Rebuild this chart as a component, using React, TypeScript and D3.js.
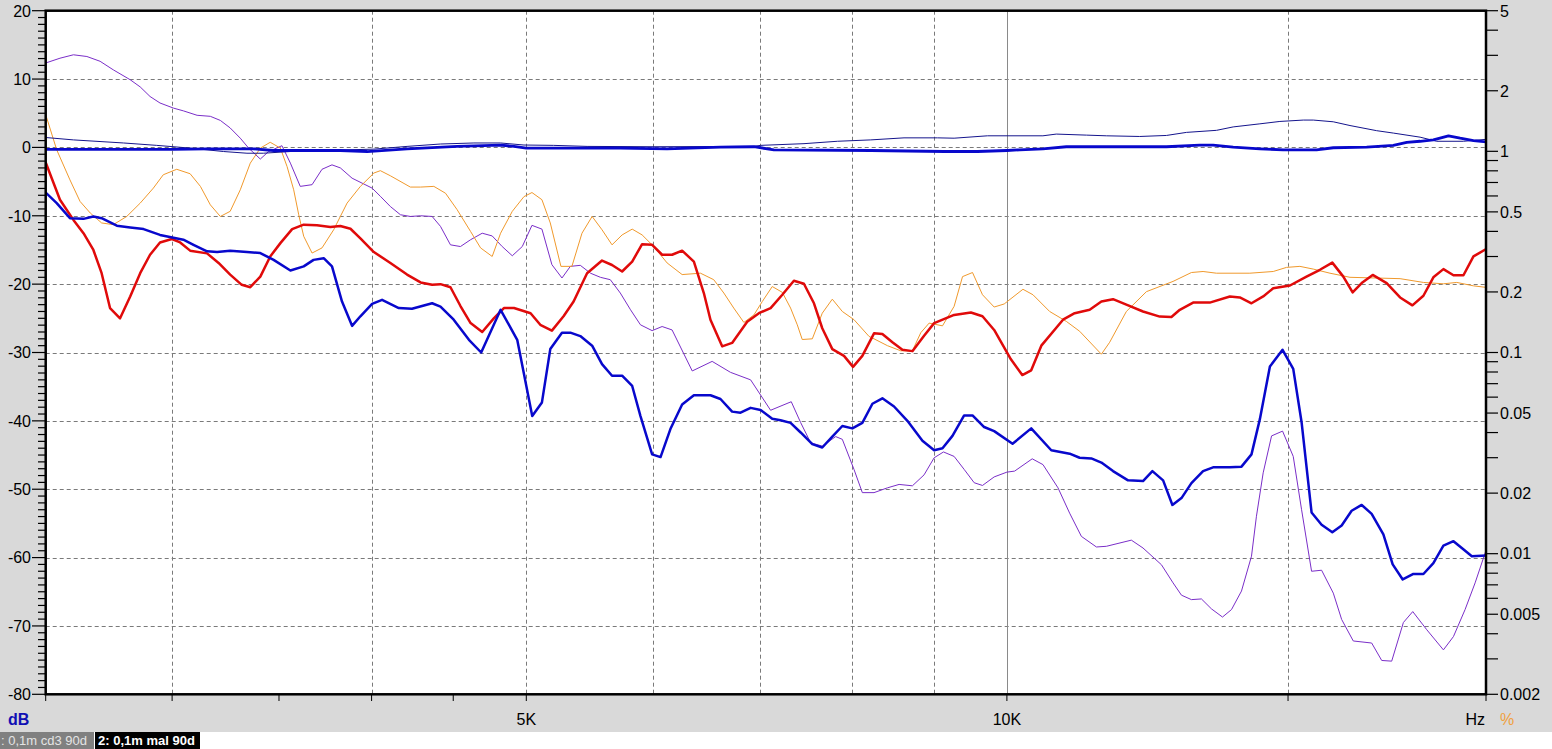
import React from 'react';
import * as d3 from 'd3';

// ---------- data (frequency Hz, level dB) ----------
const thinResponse: [number, number][] = [[2500,1.45],[2602,1.1],[2797,0.65],[2934,0.3],[3079,-0.1],[3231,-0.6],[3342,-0.85],[3422,-0.85],[3558,-0.6],[3733,-0.45],[4013,-0.25],[4210,0.15],[4418,0.5],[4636,0.65],[4818,0.65],[4983,0.35],[5201,0.3],[5458,0.15],[6010,0.1],[6943,0.15],[7010,0.3],[7463,0.55],[7831,0.9],[8217,1.1],[8621,1.4],[9048,1.4],[9267,1.35],[9724,1.7],[10533,1.7],[10738,1.95],[11215,1.8],[11542,1.7],[12111,1.6],[12587,1.75],[12957,2.2],[13530,2.5],[13859,3.0],[14403,3.45],[14825,3.8],[15334,4.0],[15557,4.0],[16011,3.75],[16402,3.2],[17045,2.45],[17460,2.1],[18147,1.5],[18586,0.9],[19318,0.9],[20000,1.2]];

const thickResponse: [number, number][] = [[2500,-0.3],[3006,-0.3],[3155,-0.2],[3374,-0.2],[3473,-0.45],[3824,-0.45],[3975,-0.6],[4210,-0.2],[4526,0.15],[4818,0.35],[4912,0.15],[5000,-0.1],[5726,-0.1],[6125,-0.2],[6616,0.05],[6943,0.1],[7146,-0.35],[8217,-0.45],[9136,-0.6],[9586,-0.6],[10000,-0.45],[10185,-0.35],[10533,-0.2],[10895,0.1],[11995,0.1],[12587,0.1],[13207,0.35],[13463,0.35],[13859,0.05],[14403,-0.2],[14896,-0.35],[15631,-0.35],[16011,-0.05],[16802,0.05],[17460,0.3],[17801,0.75],[18147,0.9],[18498,1.1],[18905,1.7],[19226,1.35],[19599,1.0],[20000,0.8]];

const blueDistortion: [number, number][] = [[2500,-6.6],[2540,-8.15],[2589,-10.35],[2640,-10.45],[2678,-10.1],[2710,-10.35],[2770,-11.45],[2824,-11.7],[2879,-11.95],[2948,-12.8],[3006,-13.2],[3049,-13.5],[3094,-14.25],[3155,-15.2],[3201,-15.3],[3262,-15.1],[3342,-15.3],[3407,-15.45],[3473,-16.45],[3558,-18.0],[3627,-17.4],[3679,-16.45],[3733,-16.2],[3778,-17.4],[3833,-22.55],[3889,-26.1],[3936,-24.7],[4003,-22.9],[4061,-22.3],[4160,-23.5],[4240,-23.6],[4365,-22.8],[4418,-23.3],[4503,-25.2],[4603,-28.15],[4685,-30.0],[4818,-23.75],[4935,-28.15],[5043,-39.3],[5114,-37.3],[5176,-29.5],[5264,-27.1],[5328,-27.1],[5405,-27.6],[5498,-29.0],[5577,-31.7],[5658,-33.4],[5741,-33.4],[5825,-34.9],[5895,-39.3],[5995,-44.9],[6068,-45.3],[6155,-41.2],[6260,-37.6],[6367,-36.25],[6521,-36.25],[6616,-36.8],[6728,-38.65],[6810,-38.8],[6910,-38.1],[7010,-38.4],[7129,-39.7],[7215,-39.9],[7320,-40.3],[7427,-41.7],[7553,-43.4],[7662,-43.9],[7774,-42.3],[7887,-40.75],[8002,-41.1],[8118,-40.3],[8237,-37.5],[8356,-36.7],[8498,-37.9],[8663,-40.0],[8853,-42.9],[9004,-44.3],[9113,-44.0],[9245,-42.2],[9402,-39.2],[9516,-39.2],[9677,-40.9],[9818,-41.5],[10082,-43.35],[10357,-41.1],[10661,-44.3],[10947,-44.8],[11106,-45.4],[11295,-45.5],[11460,-46.1],[11654,-47.35],[11909,-48.7],[12169,-48.8],[12335,-47.35],[12527,-48.7],[12696,-52.3],[12863,-51.3],[13049,-49.1],[13270,-47.35],[13463,-46.8],[13793,-46.8],[14026,-46.7],[14230,-44.9],[14403,-39.75],[14613,-32.05],[14882,-29.6],[15113,-32.4],[15296,-40.2],[15518,-53.4],[15744,-55.2],[15989,-56.3],[16206,-55.3],[16441,-53.15],[16681,-52.3],[16923,-53.6],[17211,-56.6],[17444,-61.0],[17698,-63.2],[17973,-62.4],[18234,-62.4],[18498,-60.8],[18768,-58.25],[19042,-57.6],[19272,-58.6],[19553,-59.8],[20000,-59.7]];

const redDistortion: [number, number][] = [[2500,-2.2],[2552,-7.65],[2602,-10.6],[2640,-12.55],[2678,-15.0],[2710,-18.4],[2743,-23.5],[2783,-25.0],[2824,-21.8],[2865,-18.4],[2906,-15.7],[2948,-13.9],[2999,-13.4],[3035,-13.9],[3079,-15.1],[3155,-15.5],[3208,-16.9],[3262,-18.6],[3317,-20.1],[3358,-20.45],[3407,-18.9],[3456,-15.95],[3507,-14.0],[3567,-11.95],[3627,-11.3],[3697,-11.4],[3769,-11.65],[3824,-11.5],[3880,-11.9],[3936,-13.3],[4013,-15.3],[4110,-16.9],[4210,-18.6],[4293,-19.75],[4365,-20.1],[4418,-20.0],[4482,-20.45],[4547,-23.2],[4614,-25.7],[4692,-27.0],[4771,-25.0],[4841,-23.5],[4912,-23.5],[5031,-24.25],[5102,-25.95],[5188,-26.8],[5276,-24.7],[5353,-22.55],[5458,-18.4],[5577,-16.55],[5658,-17.2],[5741,-18.15],[5825,-16.7],[5909,-14.15],[5995,-14.25],[6082,-15.7],[6170,-15.7],[6260,-15.1],[6367,-16.7],[6459,-21.3],[6521,-25.2],[6632,-29.1],[6728,-28.6],[6876,-25.5],[6993,-24.25],[7112,-23.5],[7233,-21.55],[7355,-19.5],[7462,-19.95],[7571,-22.8],[7662,-26.45],[7774,-29.5],[7906,-30.5],[8010,-32.1],[8118,-30.5],[8256,-27.2],[8356,-27.3],[8478,-28.5],[8601,-29.6],[8726,-29.8],[8874,-27.55],[9004,-25.7],[9267,-24.5],[9494,-24.15],[9654,-24.7],[9818,-26.7],[10058,-31.0],[10224,-33.3],[10357,-32.6],[10509,-29.0],[10843,-25.2],[11027,-24.25],[11268,-23.75],[11460,-22.55],[11654,-22.2],[11880,-23.0],[12169,-24.0],[12467,-24.75],[12678,-24.8],[12832,-23.75],[13081,-22.7],[13399,-22.7],[13793,-21.8],[13993,-21.95],[14230,-22.8],[14472,-21.8],[14683,-20.6],[15041,-20.2],[15405,-18.9],[15706,-17.9],[15989,-16.85],[16245,-18.9],[16465,-21.2],[16681,-19.85],[16948,-18.65],[17293,-19.85],[17631,-21.95],[17947,-23.1],[18234,-21.7],[18498,-19.0],[18768,-17.8],[19042,-18.7],[19318,-18.7],[19599,-15.95],[20000,-14.75]];

const orangeThd: [number, number][] = [[2500,4.8],[2540,-0.35],[2589,-4.75],[2627,-7.9],[2666,-9.6],[2710,-11.05],[2756,-11.3],[2810,-10.1],[2865,-8.15],[2920,-5.95],[2962,-4.0],[3020,-3.2],[3079,-3.85],[3125,-5.7],[3170,-8.4],[3216,-10.1],[3262,-9.35],[3310,-6.2],[3358,-2.3],[3407,-0.1],[3456,0.75],[3507,-0.1],[3541,-2.8],[3575,-6.2],[3601,-9.85],[3627,-13.0],[3671,-15.45],[3724,-14.7],[3787,-12.05],[3861,-8.15],[3936,-5.7],[4013,-3.75],[4051,-3.4],[4110,-4.15],[4230,-5.8],[4293,-5.8],[4376,-5.7],[4450,-6.7],[4525,-9.1],[4614,-12.3],[4681,-14.7],[4760,-15.95],[4818,-12.55],[4900,-9.35],[4983,-7.2],[5041,-6.6],[5114,-7.65],[5176,-11.05],[5256,-17.4],[5340,-17.4],[5418,-12.55],[5498,-10.1],[5577,-12.05],[5658,-14.25],[5741,-12.8],[5825,-11.95],[5909,-12.8],[6009,-14.5],[6126,-16.9],[6260,-18.6],[6428,-18.4],[6552,-19.35],[6648,-21.3],[6744,-23.5],[6843,-25.6],[6943,-24.5],[7027,-22.55],[7129,-20.35],[7233,-21.2],[7320,-23.5],[7391,-25.95],[7444,-28.1],[7553,-28.0],[7662,-24.25],[7774,-22.2],[7887,-24.0],[8021,-25.2],[8197,-27.65],[8256,-28.0],[8417,-29.0],[8580,-29.75],[8726,-29.75],[8832,-27.1],[8939,-25.7],[9113,-26.1],[9267,-23.25],[9380,-18.9],[9516,-18.3],[9654,-21.55],[9818,-23.35],[9961,-22.9],[10234,-20.75],[10383,-21.55],[10636,-24.0],[10895,-25.45],[11107,-26.9],[11460,-30.25],[11598,-28.5],[11880,-24.0],[12229,-21.1],[12708,-19.6],[13049,-18.3],[13270,-18.15],[13527,-18.4],[14196,-18.4],[14683,-18.15],[14967,-17.55],[15259,-17.4],[15557,-17.8],[15935,-18.4],[16402,-19.0],[17631,-19.2],[18234,-19.75],[18768,-19.95],[19133,-19.75],[19599,-20.25],[20000,-20.5]];

const purpleThd: [number, number][] = [[2500,12.35],[2552,13.05],[2602,13.55],[2653,13.3],[2704,12.6],[2756,11.35],[2824,9.9],[2865,8.85],[2906,7.45],[2948,6.5],[3006,5.75],[3049,5.35],[3110,4.7],[3170,4.55],[3216,3.95],[3262,2.85],[3310,1.35],[3350,-0.1],[3407,-1.7],[3448,-0.6],[3515,0.25],[3558,-2.3],[3609,-5.7],[3671,-5.45],[3724,-3.2],[3778,-2.55],[3824,-3.0],[3889,-4.5],[4003,-5.95],[4051,-7.15],[4110,-8.65],[4170,-9.85],[4230,-10.1],[4293,-10.0],[4365,-10.1],[4418,-11.55],[4482,-14.25],[4547,-14.5],[4614,-13.5],[4692,-12.55],[4760,-12.95],[4829,-14.5],[4900,-15.85],[4971,-14.5],[5041,-11.4],[5114,-11.95],[5188,-17.15],[5264,-19.1],[5328,-17.4],[5405,-17.25],[5485,-18.4],[5564,-19.0],[5644,-19.35],[5726,-21.3],[5811,-23.75],[5895,-25.95],[5995,-26.8],[6082,-26.2],[6170,-26.7],[6352,-32.7],[6537,-31.3],[6712,-32.9],[6910,-34.0],[7112,-38.45],[7327,-37.2],[7427,-40.25],[7535,-43.2],[7662,-43.7],[7812,-42.3],[7887,-42.7],[8021,-47.1],[8118,-50.5],[8256,-50.5],[8417,-49.8],[8560,-49.3],[8726,-49.5],[8874,-47.9],[9004,-45.4],[9126,-44.55],[9267,-45.2],[9402,-47.1],[9539,-49.05],[9654,-49.45],[9818,-48.2],[10000,-47.5],[10112,-47.35],[10372,-45.55],[10534,-46.4],[10765,-49.8],[10947,-53.5],[11134,-56.9],[11378,-58.45],[11542,-58.35],[11966,-57.45],[12169,-58.6],[12497,-61.05],[12708,-63.7],[12863,-65.5],[13049,-66.15],[13239,-66.05],[13431,-67.5],[13647,-68.7],[13826,-67.6],[14026,-64.9],[14230,-59.8],[14332,-53.95],[14472,-47.6],[14648,-42.2],[14882,-41.5],[15113,-45.2],[15296,-53.0],[15518,-62.0],[15744,-61.85],[16012,-65.2],[16206,-69.05],[16480,-72.2],[16923,-72.5],[17170,-75.05],[17419,-75.15],[17715,-69.5],[17956,-67.9],[18322,-70.55],[18768,-73.5],[19042,-71.55],[19364,-67.6],[19646,-63.7],[20000,-58.3]];

// ---------- axis ticks ----------
const dbTicks = [20, 10, 0, -10, -20, -30, -40, -50, -60, -70, -80];
const dbGrid = [10, 0, -10, -20, -30, -40, -50, -60, -70];
const pctTicks = [5, 2, 1, 0.5, 0.2, 0.1, 0.05, 0.02, 0.01, 0.005, 0.002];
const pctLabels = ['5', '2', '1', '0.5', '0.2', '0.1', '0.05', '0.02', '0.01', '0.005', '0.002'];
const freqLabels: [number, string][] = [[5000, '5K'], [10000, '10K']];
const freqTickMarks = [2500, 3000, 3500, 4000, 4500, 5000, 10000, 15000, 20000];
const freqGridDashed = [3000, 4000, 5000, 6000, 7000, 8000, 9000, 15000];
const freqGridSolid = [10000];

const W = 1552, H = 749;
const L = 45.7, R = 1486, T = 10.7, B = 694.3;
const FONT = '"Liberation Sans", Arial, sans-serif';

export default function App() {
  const x = d3.scaleLog().domain([2500, 20000]).range([L, 1487.5]);
  const y = d3.scaleLinear().domain([-80, 20]).range([B, T]);
  const yR = d3.scaleLog().domain([0.002, 5]).range([B, T]);
  const line = d3.line<[number, number]>().x(d => x(d[0])).y(d => y(d[1]));
  const minorDb = d3.range(-80, 21, 1);
  const minorPct = yR.ticks(40).filter(v => v >= 0.002 && v <= 5);

  const series = [
    { d: purpleThd, c: '#7a2ec8', w: 1 },
    { d: orangeThd, c: '#f0992c', w: 1 },
    { d: thinResponse, c: '#14148c', w: 1 },
    { d: redDistortion, c: '#e00a0a', w: 2.5 },
    { d: blueDistortion, c: '#0808cc', w: 2.5 },
    { d: thickResponse, c: '#0808cc', w: 2.8 },
  ];

  return (
    <>
      <style>{`body{margin:0;background:#fff}`}</style>
      <svg width={W} height={H} style={{ display: 'block' }} fontFamily={FONT}>
        <rect x={0} y={0} width={W} height={732} fill="#d9d9d9" />
        <rect x={L} y={T} width={R - L} height={B - T} fill="#fff" />
        <defs>
          <clipPath id="plotclip">
            <rect x={L} y={T} width={R - L} height={B - T} />
          </clipPath>
        </defs>
        {/* grid */}
        {dbGrid.map(v => (
          <line key={'hg' + v} x1={L} x2={R} y1={Math.round(y(v)) + 0.5} y2={Math.round(y(v)) + 0.5}
            stroke="#7a7a7a" strokeWidth={1} strokeDasharray="4,3" />
        ))}
        {freqGridDashed.map(f => (
          <line key={'vg' + f} x1={Math.round(x(f)) + 0.5} x2={Math.round(x(f)) + 0.5} y1={T} y2={B}
            stroke="#7a7a7a" strokeWidth={1} strokeDasharray="4,3" />
        ))}
        {freqGridSolid.map(f => (
          <line key={'vs' + f} x1={Math.round(x(f)) + 0.5} x2={Math.round(x(f)) + 0.5} y1={T} y2={B}
            stroke="#8a8a8a" strokeWidth={1} />
        ))}
        {/* curves */}
        <g clipPath="url(#plotclip)" fill="none" strokeLinejoin="round">
          {series.map((s, i) => (
            <path key={i} d={line(s.d) || ''} stroke={s.c} strokeWidth={s.w} />
          ))}
        </g>
        {/* frame */}
        <rect x={L} y={T} width={R - L} height={B - T} fill="none" stroke="#000" strokeWidth={2.5} />
        {/* left ticks */}
        {minorDb.map(v => (
          <line key={'lt' + v} x1={v % 10 === 0 ? 32 : 38} x2={L} y1={y(v)} y2={y(v)} stroke="#000" strokeWidth={1.2} />
        ))}
        {dbTicks.map(v => (
          <text key={'ll' + v} x={31} y={y(v) + 5.8} textAnchor="end" fontSize={16} fill="#000">{v}</text>
        ))}
        {/* right ticks */}
        {minorPct.map(v => (
          <line key={'rt' + v} x1={R} x2={1498} y1={yR(v)} y2={yR(v)} stroke="#000" strokeWidth={1.2} />
        ))}
        {pctTicks.map((v, i) => (
          <text key={'rl' + v} x={1500} y={yR(v) + 5.8} textAnchor="start" fontSize={16} fill="#000">{pctLabels[i]}</text>
        ))}
        {/* bottom ticks */}
        {freqTickMarks.map(f => (
          <line key={'bt' + f} x1={Math.min(x(f), R)} x2={Math.min(x(f), R)} y1={B} y2={701} stroke="#000" strokeWidth={1} />
        ))}
        {freqLabels.map(([f, s]) => (
          <text key={'bl' + f} x={x(f)} y={725} textAnchor="middle" fontSize={16} fill="#000">{s}</text>
        ))}
        {/* unit labels */}
        <text x={8} y={725} fontSize={16} fontWeight="bold" fill="#1010b4">dB</text>
        <text x={1485} y={725} textAnchor="end" fontSize={16} fill="#000">Hz</text>
        <text x={1500} y={725} fontSize={16} fill="#f0a040">%</text>
        {/* legend tabs */}
        <rect x={0} y={732} width={94} height={17} fill="#808080" />
        <text x={1} y={745} fontSize={13} fill="#e4e4e4">: 0,1m cd3 90d</text>
        <rect x={95} y={732} width={105} height={17} fill="#000" />
        <text x={98} y={745} fontSize={13} fontWeight="bold" fill="#fff">2: 0,1m mal 90d</text>
      </svg>
    </>
  );
}
